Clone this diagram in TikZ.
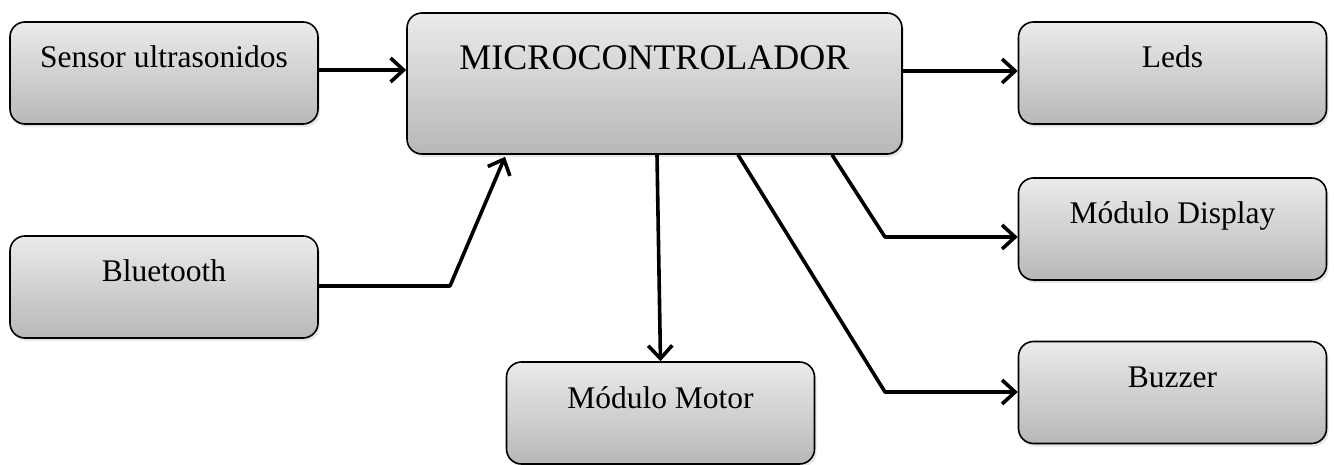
\documentclass[tikz,border=0pt]{standalone}
\usepackage{fontspec}
\setmainfont{Liberation Serif}
\usetikzlibrary{arrows.meta,shadows}

\begin{document}
\begin{tikzpicture}
  [x=1pt,y=-1pt,
   box/.style={draw=black,line width=1.6pt,rounded corners=15pt,
     top color=black!8,bottom color=black!28,
     drop shadow={shadow xshift=2pt,shadow yshift=-3pt,opacity=0.2},
     inner sep=0pt,minimum width=308pt,minimum height=102pt,
     text height=46pt,text depth=56pt,font=\fontsize{31.5}{36}\selectfont},
   big/.style={box,minimum width=495pt,minimum height=141pt,
     text height=57pt,text depth=84pt,font=\fontsize{36}{40}\selectfont},
   link/.style={line width=3.6pt,line join=round,-{Straight Barb[length=13pt,width=24pt]}}]
  \useasboundingbox (0,0) rectangle (1334,465);

  \node[big] (micro)   at (654.5,83.5)  {MICROCONTROLADOR};
  \node[box] (sensor)  at (164,73)      {Sensor ultrasonidos};
  \node[box] (bt)      at (164,287)     {Bluetooth};
  \node[box] (motor)   at (660.5,413)   {Módulo Motor};
  \node[box] (leds)    at (1172.5,73)   {Leds};
  \node[box] (display) at (1172.5,229)  {Módulo Display};
  \node[box] (buzzer)  at (1172.5,392.5){Buzzer};

  \coordinate (btbend) at (450,286);
  \coordinate (dbend)  at (885,237);
  \coordinate (bzbend) at (885,392);

  \draw[link] ([yshift=3pt]sensor.east) -- ([yshift=3pt]sensor.east -| micro.west);
  \draw[link] (bt.east |- btbend) -- (btbend) -- ([xshift=-149.5pt,yshift=-2pt]micro.south);
  \draw[link] ([xshift=2.5pt]micro.south) -- (motor.north);
  \draw[link] ([yshift=2pt]leds.west -| micro.east) -- ([yshift=2pt]leds.west);

  \foreach \dx/\bend/\to in {177.5/dbend/display,83.5/bzbend/buzzer}
    \draw[link] ([xshift=\dx pt]micro.south) -- (\bend) -- (\bend -| \to.west);

\end{tikzpicture}
\end{document}
